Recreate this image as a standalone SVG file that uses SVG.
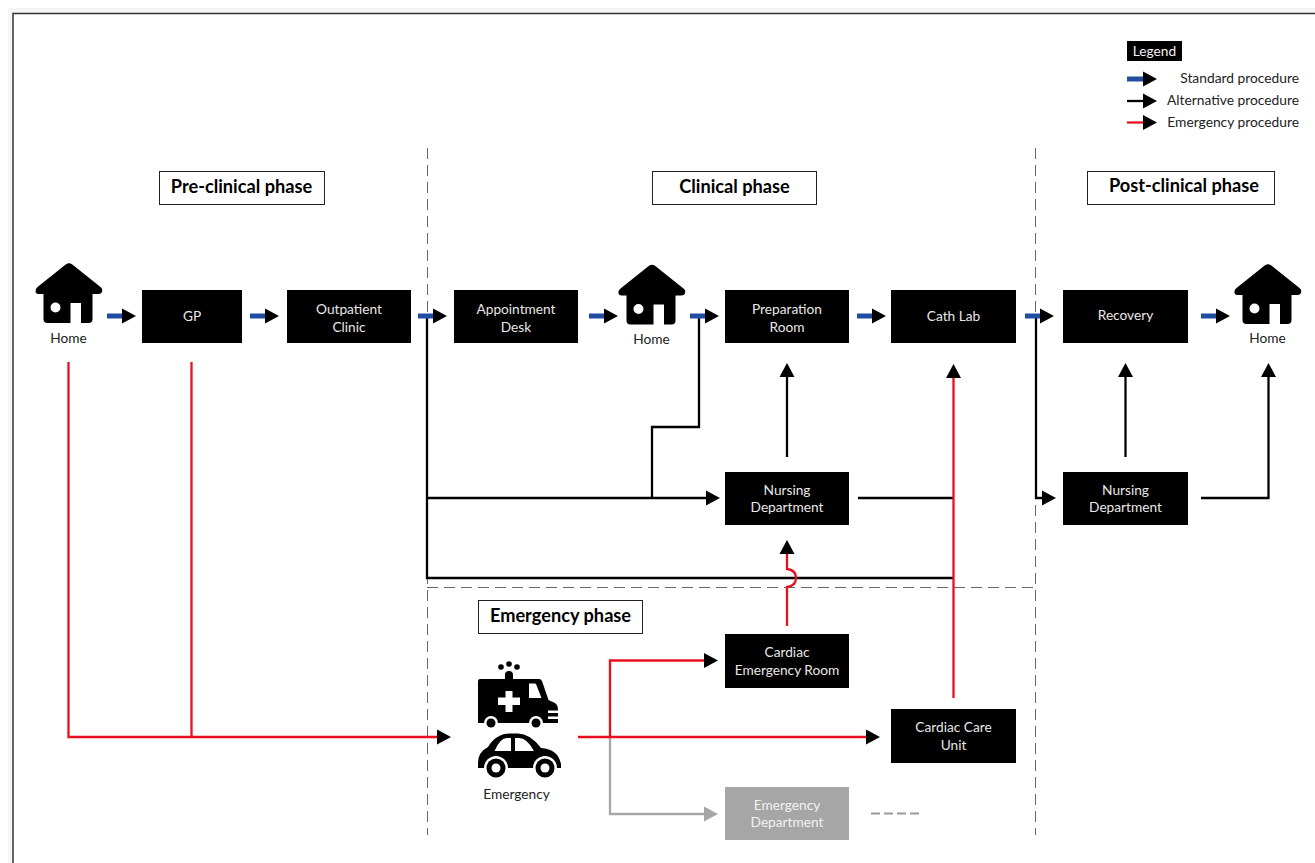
<svg xmlns="http://www.w3.org/2000/svg" width="1315" height="863" viewBox="0 0 1315 863">
<style>
text{font-family:"Lato","Liberation Sans",sans-serif}
.n{fill:#000}
.nt{fill:#e8e8e8;font-size:13.700px;text-anchor:middle}
.lb{fill:#222;font-size:13.700px;text-anchor:middle}
.t{fill:#fff;stroke:#222;stroke-width:1}
.tt{fill:#000;font-size:18.200px;font-weight:700;text-anchor:middle}
.lg{fill:#222;font-size:13.800px;text-anchor:end}
.c{fill:none}
.b{stroke:#1f4ea1;stroke-width:5;marker-end:url(#h)}
.k{stroke:#000;stroke-width:2.300}
.ka{marker-end:url(#h)}
.r{stroke:#e8101f;stroke-width:2.300}
.g{stroke:#a6a6a6;stroke-width:2.300}
.d{stroke:#666;stroke-width:1;stroke-dasharray:11 6}
</style>
<defs>
<marker id="h" markerUnits="userSpaceOnUse" markerWidth="15" markerHeight="16" refX="0" refY="8" orient="auto"><path d="M0 .5L14 8L0 15.500Z" fill="#000"/></marker>
<marker id="hg" markerUnits="userSpaceOnUse" markerWidth="15" markerHeight="16" refX="0" refY="8" orient="auto"><path d="M0 .5L14 8L0 15.500Z" fill="#a6a6a6"/></marker>
<symbol id="house" viewBox="0 0 67 60" width="67" height="60" overflow="visible">
<path fill-rule="evenodd" d="M30.500 1.200Q33.500 -0.800 36.500 1.200L65 24Q67.500 26 66.500 29Q65.500 31 63 31L57 31L57 56Q57 60 53 60L45.500 60L45.500 40L35 40L35 60L12 60Q8 60 8 56L8 31L3 31Q.5 31 0 29Q-.5 26 2 24ZM20 39.500A5 5 0 1 0 20 49.500A5 5 0 1 0 20 39.500Z" fill="#000"/>
</symbol>
</defs>
<rect width="1315" height="863" fill="#fff"/>
<path d="M8 863V8H1315V13H13V863Z" fill="#f6f6f6"/>
<path d="M13 863V13.500H1315" fill="none" stroke="#333" stroke-width="1.500"/>

<g id="phases" class="c">
<path class="d" d="M427.500 148V835M1035.500 148V835M427 587.500H1035"/>
</g>

<g id="connectors" class="c">
<path class="g" d="M610 737V814H704" marker-end="url(#hg)"/>
<path class="d" style="stroke:#999;stroke-width:2;stroke-dasharray:9 4" d="M871 813.500H919"/>
<path class="k" d="M427 316V578H953"/>
<path class="k ka" d="M427 498H706"/>
<path class="k" d="M652 498V427H699V316"/>
<path class="k ka" d="M787 457V377"/>
<path class="k ka" d="M1125.500 457V377"/>
<path class="k" d="M858 498H953"/>
<path class="k ka" d="M1036 316V498H1042"/>
<path class="k ka" d="M1201 498H1268.500V377"/>
<path class="r ka" d="M68.500 362V737H437"/>
<path class="r" d="M191.500 362V737"/>
<path class="r ka" d="M578 737H866"/>
<path class="r ka" d="M610 737V660.500H704"/>
<path class="r ka" d="M787 626V587Q796 586 796 578Q796 570 787 569V554"/>
<path class="r ka" d="M953.500 698V378"/>
<path class="b" d="M107 316H122"/>
<path class="b" d="M250 316H265"/>
<path class="b" d="M418 316H433"/>
<path class="b" d="M589 316H604"/>
<path class="b" d="M690 316H705"/>
<path class="b" d="M857 316H872"/>
<path class="b" d="M1025 316H1040"/>
<path class="b" d="M1201 316H1216"/>
</g>

<g id="title-pre"><rect class="t" x="159.500" y="171.500" width="165" height="33"/><text class="tt" x="241.500" y="193">Pre-clinical phase</text></g>
<g id="title-clinical"><rect class="t" x="652.500" y="171.500" width="164" height="33"/><text class="tt" x="734.500" y="193">Clinical phase</text></g>
<g id="title-post"><rect class="t" x="1087.500" y="171.500" width="187" height="33"/><text class="tt" x="1184" y="192">Post-clinical phase</text></g>
<g id="title-emergency"><rect class="t" x="478.500" y="600.500" width="164" height="33"/><text class="tt" x="560.500" y="622">Emergency phase</text></g>

<g id="home-1"><use href="#house" x="35.500" y="263"/><text class="lb" x="68.500" y="342.500">Home</text></g>
<g id="gp"><rect class="n" x="142" y="290" width="100" height="53"/><text class="nt" x="192" y="321">GP</text></g>
<g id="outpatient"><rect class="n" x="287" y="290" width="124" height="53"/><text class="nt" x="349" y="314">Outpatient</text><text class="nt" x="349" y="331.500">Clinic</text></g>
<g id="appointment"><rect class="n" x="454" y="290" width="124" height="53"/><text class="nt" x="516" y="314">Appointment</text><text class="nt" x="516" y="331.500">Desk</text></g>
<g id="home-2"><use href="#house" x="618.500" y="264.500"/><text class="lb" x="651.500" y="343.500">Home</text></g>
<g id="preparation"><rect class="n" x="725" y="290" width="124" height="53"/><text class="nt" x="787" y="314">Preparation</text><text class="nt" x="787" y="331.500">Room</text></g>
<g id="cath-lab"><rect class="n" x="891" y="290" width="125" height="53"/><text class="nt" x="953.500" y="320.500">Cath Lab</text></g>
<g id="recovery"><rect class="n" x="1063" y="290" width="125" height="53"/><text class="nt" x="1125.500" y="319.500">Recovery</text></g>
<g id="home-3"><use href="#house" x="1234.500" y="264"/><text class="lb" x="1267.500" y="342.500">Home</text></g>
<g id="nursing-1"><rect class="n" x="725" y="472" width="124" height="53"/><text class="nt" x="787" y="494.500">Nursing</text><text class="nt" x="787" y="512">Department</text></g>
<g id="nursing-2"><rect class="n" x="1063" y="472" width="125" height="53"/><text class="nt" x="1125.500" y="494.500">Nursing</text><text class="nt" x="1125.500" y="512">Department</text></g>
<g id="cardiac-er"><rect class="n" x="725" y="634" width="124" height="54"/><text class="nt" x="787" y="657">Cardiac</text><text class="nt" x="787" y="675">Emergency Room</text></g>
<g id="ccu"><rect class="n" x="891" y="709" width="125" height="54"/><text class="nt" x="953.500" y="732">Cardiac Care</text><text class="nt" x="953.500" y="749.500">Unit</text></g>
<g id="ed"><rect x="725" y="787" width="124" height="53" fill="#a6a6a6"/><text class="nt" x="787" y="809.500" style="fill:#f2f2f2">Emergency</text><text class="nt" x="787" y="827" style="fill:#f2f2f2">Department</text></g>

<g id="emergency">
<path fill-rule="evenodd" d="M480 679H539Q541 679 542 681L548.500 700L555 703Q558 705 558 710V723H478V681Q478 679 480 679ZM529 683.500V698H541.500L536 684Q535.500 683.500 535 683.500ZM505.500 691V697.500H498V705H505.500V712H512.500V705H520V697.500H512.500V691Z" fill="#000"/>
<path d="M548 710.500H558V713H548ZM548 716.500H558V719H548Z" fill="#fff"/>
<circle cx="491" cy="723" r="7" fill="#fff"/><circle cx="536" cy="723" r="7" fill="#fff"/>
<circle cx="491" cy="723" r="4.500" fill="#000"/><circle cx="536" cy="723" r="4.500" fill="#000"/>
<path d="M505 679V675Q505 671 509 671Q513 671 513 675V679Z" fill="#000"/>
<circle cx="509" cy="664" r="2.800" fill="#000"/><circle cx="501" cy="667" r="2.800" fill="#000"/><circle cx="517" cy="667" r="2.800" fill="#000"/>
<path fill-rule="evenodd" d="M488 747Q496 733.500 510 733.500H518Q530 733.500 541 748Q558 749 561 764V768H478V763Q478 752 488 747ZM494.500 751H511V738H507Q500 738 494.500 751ZM515 738V751H534Q527 738 519 738Z" fill="#000"/>
<circle cx="496" cy="768" r="12" fill="#fff"/><circle cx="545" cy="768" r="12" fill="#fff"/>
<circle cx="496" cy="768" r="9.500" fill="#000"/><circle cx="545" cy="768" r="9.500" fill="#000"/>
<circle cx="496" cy="768" r="4.500" fill="#fff"/><circle cx="545" cy="768" r="4.500" fill="#fff"/>
<text class="lb" x="516.500" y="799">Emergency</text>
</g>

<g id="legend">
<rect class="n" x="1127" y="41" width="55" height="20"/>
<text x="1154.500" y="56" style="fill:#f2f2f2;font-size:13.700px;text-anchor:middle">Legend</text>
<path class="c b" d="M1127 79H1143"/>
<path class="c k ka" d="M1127 101H1143"/>
<path class="c r ka" d="M1127 122.500H1143"/>
<text class="lg" x="1299" y="83">Standard procedure</text>
<text class="lg" x="1299" y="105">Alternative procedure</text>
<text class="lg" x="1299" y="126.500">Emergency procedure</text>
</g>
</svg>
